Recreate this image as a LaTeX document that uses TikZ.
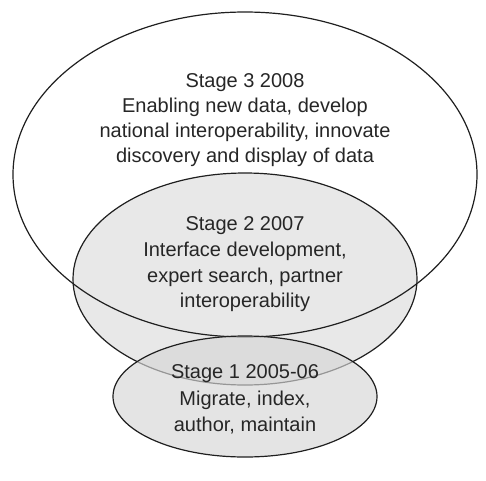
\documentclass[tikz,border=0pt]{standalone}
\usepackage{fontspec}
\setmainfont{Liberation Sans}
\begin{document}
\begin{tikzpicture}[x=1pt,y=-1pt,
  outl/.style={draw=black!88, line width=1.2pt},
  lbl/.style={anchor=base, inner sep=0pt, font=\fontsize{20}{25}\selectfont, text=black!85}]
\useasboundingbox (0,0) rectangle (486,480);
% fills
\fill[black!9] (245,279) ellipse [x radius=172, y radius=106];
% outlines of stages 3 and 2
\draw[outl] (245,174.5) ellipse [x radius=232, y radius=162.5];
\draw[outl] (245,279) ellipse [x radius=172, y radius=106];
% stage 1
\fill[black!16, fill opacity=0.65] (245,396.5) ellipse [x radius=132, y radius=60.5];
\draw[outl] (245,396.5) ellipse [x radius=132, y radius=60.5];
% texts
\node[lbl] (s3a) at (245,87)  {Stage 3 2008};
\node[lbl] (s3b) at (245,112) {Enabling new data, develop};
\node[lbl] (s3c) at (245,137) {national interoperability, innovate};
\node[lbl] (s3d) at (245,162) {discovery and display of data};
\node[lbl] (s2a) at (245,230) {Stage 2 2007};
\node[lbl] (s2b) at (245,256) {Interface development,};
\node[lbl] (s2c) at (245,282) {expert search, partner};
\node[lbl] (s2d) at (245,307) {interoperability};
\node[lbl] (s1a) at (245,378) {Stage 1 2005-06};
\node[lbl] (s1b) at (245,405) {Migrate, index,};
\node[lbl] (s1c) at (245,431) {author, maintain};
\end{tikzpicture}
\end{document}
